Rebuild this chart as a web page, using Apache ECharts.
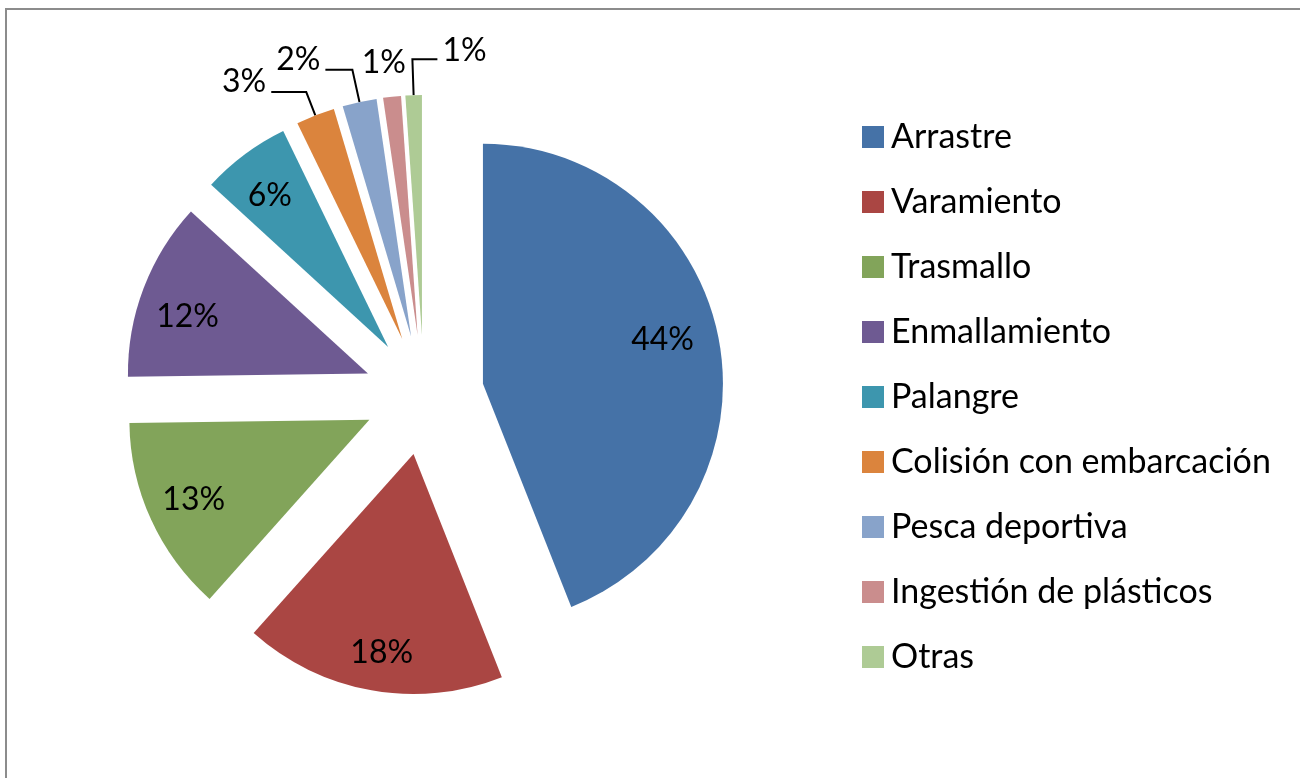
<!DOCTYPE html>
<html>
<head>
<meta charset="utf-8">
<script src="https://cdn.jsdelivr.net/npm/echarts@6/dist/echarts.min.js"></script>
<style>
  html, body { margin: 0; padding: 0; background: #fff; overflow: hidden; }
  #chart { width: 1300px; height: 778px; }
  #frame { position: absolute; left: 5px; top: 8px; width: 1400px; height: 900px;
           border: 2px solid #8c8c8c; pointer-events: none; }
</style>
</head>
<body>
<div id="chart"></div>
<div id="frame"></div>
<script>
var causes = ['Arrastre', 'Varamiento', 'Trasmallo', 'Enmallamiento', 'Palangre',
  'Colisión con embarcación', 'Pesca deportiva', 'Ingestión de plásticos', 'Otras'];
var shares = [44.0, 17.6, 13.2, 12.0, 6.0, 2.6, 2.3, 1.2, 1.1];
var colors = ['#4572A7', '#AA4643', '#82A45A', '#6E5A92', '#3D96AE',
  '#DB843D', '#88A3CA', '#CA8D8D', '#AECB95'];

// small slices get their label outside, with a leader line
var outer = {
  'Colisión con embarcación': { length: 25, length2: 35, line: true },
  'Pesca deportiva': { length: 33, length2: 27, line: true },
  'Ingestión de plásticos': { length: 30, length2: 0, line: false, center: true },
  'Otras': { length: 36, length2: 25, line: true, flip: true }
};
// small shifts of the inside labels, like the spreadsheet placed them
var nudge = {
  'Arrastre': [-10, -8],
  'Varamiento': [2, 9],
  'Enmallamiento': [0, 12],
  'Palangre': [-3, 3]
};

var font = 'Lato, "Open Sans", sans-serif';
var center = [424, 395];

var pieData = causes.map(function (name, i) {
  var o = outer[name];
  return {
    name: name,
    value: shares[i],
    selected: true,
    itemStyle: { color: colors[i] },
    label: { show: !!o },
    labelLine: o ? { show: o.line, length: o.length, length2: o.length2 } : { show: false }
  };
});

var innerData = causes.map(function (name, i) {
  return {
    name: name,
    value: shares[i],
    selected: true,
    label: { show: !outer[name] }
  };
});

var chart = echarts.init(document.getElementById('chart'));

chart.setOption({
  animation: false,
  color: colors,
  legend: {
    orient: 'vertical',
    left: 862,
    top: 120,
    padding: 0,
    itemWidth: 22,
    itemHeight: 22,
    itemGap: 31,
    icon: 'rect',
    selectedMode: false,
    data: causes,
    textStyle: { fontFamily: font, fontSize: 34, color: '#000', padding: [0, 0, 0, 2] }
  },
  series: [
    {
      type: 'pie',
      name: 'causas',
      center: center,
      radius: [0, 240],
      startAngle: 90,
      clockwise: true,
      selectedMode: 'multiple',
      selectedOffset: 60,
      avoidLabelOverlap: false,
      emphasis: { disabled: true },
      label: {
        position: 'outside',
        fontFamily: font,
        fontSize: 32,
        color: '#000',
        formatter: function (p) { return Math.round(p.percent) + '%'; }
      },
      labelLine: { lineStyle: { color: '#000', width: 2 }, smooth: false },
      labelLayout: function (p) {
        var o = outer[causes[p.dataIndex]];
        if (!o) return {};
        var pts = p.labelLinePoints;
        if (o.center) return { dx: p.labelRect.width / 2, dy: -4 };
        if (o.flip && pts) {
          var p1 = pts[1];
          var p2 = [2 * p1[0] - pts[2][0], pts[2][1]];
          return {
            dx: p2[0] + 5 - p.labelRect.x,
            dy: -9,
            labelLinePoints: [pts[0], p1, p2]
          };
        }
        return { dy: -10, labelLinePoints: pts };
      },
      data: pieData
    },
    {
      type: 'pie',
      name: 'etiquetas',
      center: center,
      radius: [140, 240],
      startAngle: 90,
      clockwise: true,
      selectedMode: 'multiple',
      selectedOffset: 60,
      silent: true,
      emphasis: { disabled: true },
      itemStyle: { color: 'rgba(0,0,0,0)' },
      label: {
        position: 'inside',
        fontFamily: font,
        fontSize: 32,
        color: '#000',
        formatter: function (p) { return Math.round(p.percent) + '%'; }
      },
      labelLayout: function (p) {
        var n = nudge[causes[p.dataIndex]];
        return n ? { dx: n[0], dy: n[1] } : {};
      },
      labelLine: { show: false },
      data: innerData
    }
  ]
});

window.addEventListener('resize', function () {
  chart.resize();
});
</script>
</body>
</html>
